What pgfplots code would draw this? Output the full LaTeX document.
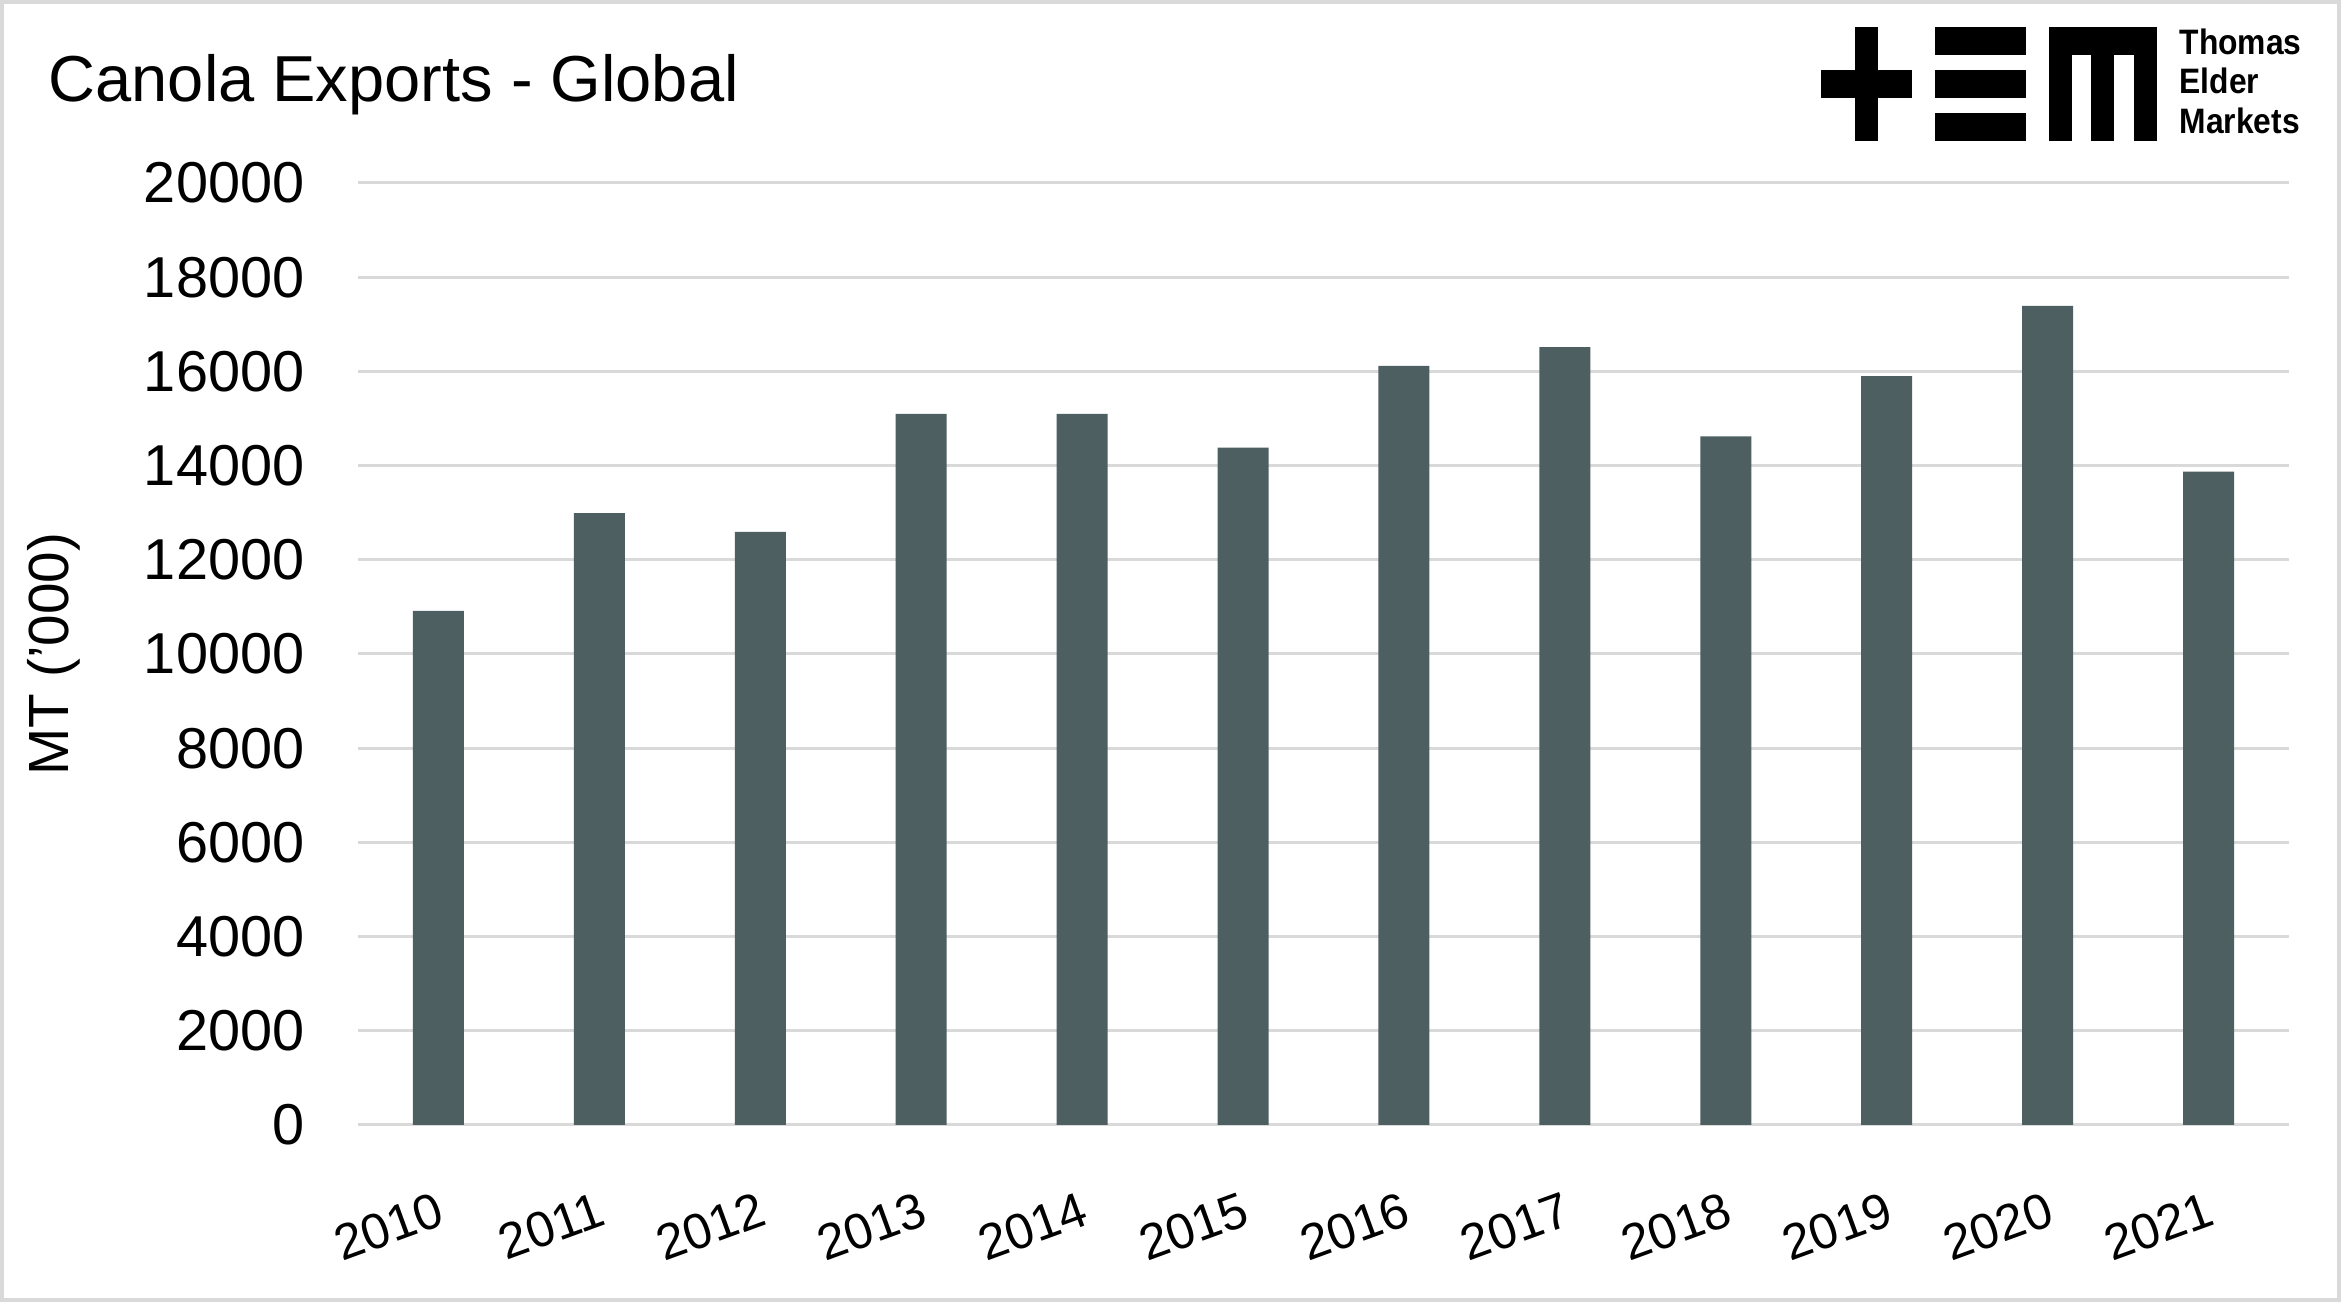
\documentclass[border=0pt]{standalone}
\usepackage{fontspec}
\setmainfont{Liberation Sans}
\usepackage{graphicx}
\usepackage{pgfplots}
\pgfplotsset{compat=1.18}
\definecolor{barc}{HTML}{4D5F61}
\definecolor{gridc}{HTML}{D9D9D9}
\begin{document}
\begin{tikzpicture}[x=1pt,y=1pt]
\fill[white] (0,0) rectangle (702.3,390.6);
\begin{axis}[
  at={(107.4pt,53.1pt)}, anchor=south west,
  scale only axis, width=579.3pt, height=282.6pt,
  xmin=-0.5, xmax=11.5, ymin=0, ymax=20000,
  axis line style={draw=none},
  major tick length=0pt,
  ymajorgrids, grid style={gridc, line width=0.9pt},
  ytick={0,2000,...,20000},
  scaled y ticks=false,
  xtick={0,...,11},
  xticklabels={2010,2011,2012,2013,2014,2015,2016,2017,2018,2019,2020,2021},
  /pgf/number format/assume math mode=true,
  /pgf/number format/1000 sep={},
  yticklabel style={font=\fontsize{17.3}{19}\selectfont, anchor=east, inner sep=0pt, xshift=-15.9pt},
  xticklabel style={font=\fontsize{15}{17}\selectfont, rotate=20, anchor=north east, inner sep=0pt, xshift=-7.5pt, yshift=-18pt},
  ylabel={MT ('000)},
  ylabel style={font=\fontsize{17}{19}\selectfont, at={(axis description cs:-0.1574,0.5)}, anchor=center},
  ybar, bar width=15.3pt,
]
\addplot[fill=barc, draw=none] coordinates {
(0,10915) (1,12990) (2,12590) (3,15100) (4,15100) (5,14380)
(6,16115) (7,16515) (8,14620) (9,15900) (10,17390) (11,13870)};
\end{axis}
% title
\node[anchor=base west, inner sep=0pt, font=\fontsize{19.5}{22}\selectfont] at (14.4,360.2) {Canola Exports - Global};
% logo
\fill[black] (556.5,348.3) rectangle (563.4,382.5);
\fill[black] (546.3,361.2) rectangle (573.6,369.6);
\fill[black] (580.5,374.1) rectangle (607.8,382.5);
\fill[black] (580.5,361.2) rectangle (607.8,369.6);
\fill[black] (580.5,348.3) rectangle (607.8,356.7);
\fill[black] (614.7,374.1) rectangle (647.1,382.5);
\fill[black] (614.7,348.3) rectangle (621.6,382.5);
\fill[black] (627.3,348.3) rectangle (634.2,382.5);
\fill[black] (640.2,348.3) rectangle (647.1,382.5);
\node[anchor=base west, inner sep=0pt, font=\bfseries\fontsize{10.6}{12}\selectfont] at (653.7,374.1) {\scalebox{0.9}[1]{Thomas}};
\node[anchor=base west, inner sep=0pt, font=\bfseries\fontsize{10.6}{12}\selectfont] at (653.7,362.4) {\scalebox{0.9}[1]{Elder}};
\node[anchor=base west, inner sep=0pt, font=\bfseries\fontsize{10.6}{12}\selectfont] at (653.7,350.4) {\scalebox{0.9}[1]{Markets}};
\draw[gridc, line width=1.2pt] (0.6,0.6) rectangle (701.7,390.0);
\pgfresetboundingbox
\useasboundingbox (0,0) rectangle (702.3,390.6);
\end{tikzpicture}
\end{document}
